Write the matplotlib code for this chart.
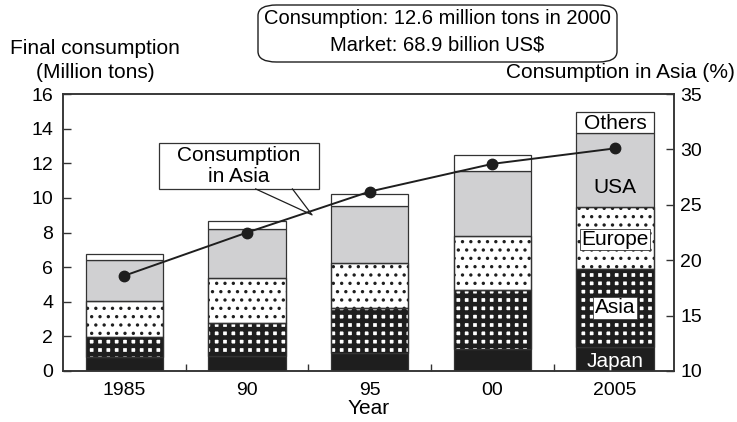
import numpy as np
import matplotlib
matplotlib.use("Agg")
import matplotlib.pyplot as plt
from matplotlib.patches import Rectangle, FancyBboxPatch

plt.rcParams["font.family"] = ["Liberation Sans", "DejaVu Sans"]

years = ["1985", "90", "95", "00", "2005"]
japan = [0.82, 0.87, 1.02, 1.25, 1.41]
asia = [1.16, 1.89, 2.64, 3.43, 4.47]
europe = [2.07, 2.63, 2.60, 3.12, 3.62]
usa = [2.34, 2.81, 3.29, 3.76, 4.24]
others = [0.37, 0.49, 0.66, 0.93, 1.25]
asia_share = [18.6, 22.5, 26.2, 28.7, 30.1]

fig = plt.figure(figsize=(7.37, 4.22), dpi=100)
ax = fig.add_axes([0.0855, 0.121, 0.829, 0.656])

x = np.arange(len(years))
w = 0.63
edge = "#333333"
dark = "#1e1e1e"
# name, values, face, hatch, hatch colour, hatch linewidth
layers = [
    ("Japan", japan, dark, None, None, 0),
    ("Asia", asia, "white", "++", dark, 3.3),
    ("Europe", europe, "white", "..", dark, 1.2),
    ("USA", usa, "#d0d0d2", None, None, 0),
    ("Others", others, "white", None, None, 0),
]
bottom = np.zeros(len(years))
for name, vals, face, hatch, hcol, hlw in layers:
    vals = np.array(vals)
    ax.bar(x, vals, w, bottom=bottom, color=face, edgecolor=edge, linewidth=0.9, zorder=2)
    if hatch:
        plt.rcParams["hatch.linewidth"] = hlw
        ax.bar(x, vals, w, bottom=bottom, color="none", edgecolor=hcol,
               hatch=hatch, linewidth=0, zorder=2.5)
        ax.bar(x, vals, w, bottom=bottom, color="none", edgecolor=edge,
               linewidth=0.9, zorder=2.6)
    bottom += vals

# segment labels on the 2005 bar
last = np.array([l[1][-1] for l in layers])
tops = np.cumsum(last)
bots = tops - last
mids = (tops + bots) / 2
fs = 15
ax.text(x[-1], mids[0] - 0.15, "Japan", color="white", ha="center", va="center", fontsize=fs, zorder=5)
ax.text(x[-1], mids[1], "Asia", ha="center", va="center", fontsize=fs, zorder=5,
        bbox=dict(fc="white", ec=edge, lw=0.5, pad=1.0))
ax.text(x[-1], mids[2] - 0.1, "Europe", ha="center", va="center", fontsize=fs, zorder=5,
        bbox=dict(fc="white", ec=edge, lw=0.6, pad=0.8))
ax.text(x[-1], bots[3] + 1.1, "USA", ha="center", va="center", fontsize=fs, zorder=5)
ax.text(x[-1], mids[4] - 0.05, "Others", ha="center", va="center", fontsize=fs, zorder=5)

ax.set_xlim(-0.5, 4.48)
ax.set_ylim(0, 16)
ax.set_yticks(np.arange(0, 17, 2))
ax.set_xticks(x)
ax.set_xticklabels(years)
ax.set_xticks(x[:-1] + 0.5, minor=True)
ax.tick_params(axis="x", which="major", length=0, pad=8, labelsize=14)
ax.tick_params(axis="x", which="minor", direction="in", length=5, width=1, color=edge)
ax.tick_params(axis="y", direction="in", length=6, width=1, color=edge, pad=7, labelsize=14)
for s in ax.spines.values():
    s.set_linewidth(1.1)
    s.set_color(edge)
ax.set_xlabel("Year", fontsize=fs, labelpad=0)

ax2 = ax.twinx()
ax2.plot(x, asia_share, color=dark, lw=1.4, marker="o", ms=7.5, zorder=4)
ax2.set_ylim(10, 35)
ax2.set_yticks(np.arange(10, 36, 5))
ax2.tick_params(axis="y", direction="in", length=6, width=1, color=edge, pad=4.5, labelsize=14)
for s in ax2.spines.values():
    s.set_linewidth(1.1)
    s.set_color(edge)

# callout for the line
ax.add_patch(Rectangle((0.28, 10.52), 1.31, 2.66, fc="white", ec=edge, lw=0.9, zorder=6))
ax.text(0.935, 11.85, "Consumption\nin Asia", ha="center", va="center", fontsize=fs,
        linespacing=1.1, zorder=7)
ax.plot([1.07, 1.53, 1.37], [10.52, 9.02, 10.52], color=dark, lw=0.9, zorder=6)

fig.text(95 / 737, 1 - 48 / 422, "Final consumption", ha="center", va="center", fontsize=fs)
fig.text(95 / 737, 1 - 73 / 422, "(Million tons)", ha="center", va="center", fontsize=fs)
fig.text(735 / 737, 1 - 73 / 422, "Consumption in Asia (%)", ha="right", va="center", fontsize=fs)

fig.patches.append(FancyBboxPatch((258 / 737, 1 - 62 / 422), 359 / 737, 57 / 422,
                                  boxstyle="round,pad=0,rounding_size=0.025",
                                  transform=fig.transFigure, fc="white", ec=dark, lw=1))
fig.text(437.5 / 737, 1 - 19 / 422, "Consumption: 12.6 million tons in 2000",
         ha="center", va="center", fontsize=14.5)
fig.text(437.5 / 737, 1 - 45 / 422, "Market: 68.9 billion US$",
         ha="center", va="center", fontsize=14.5)

fig.savefig("out.png", dpi=100)
